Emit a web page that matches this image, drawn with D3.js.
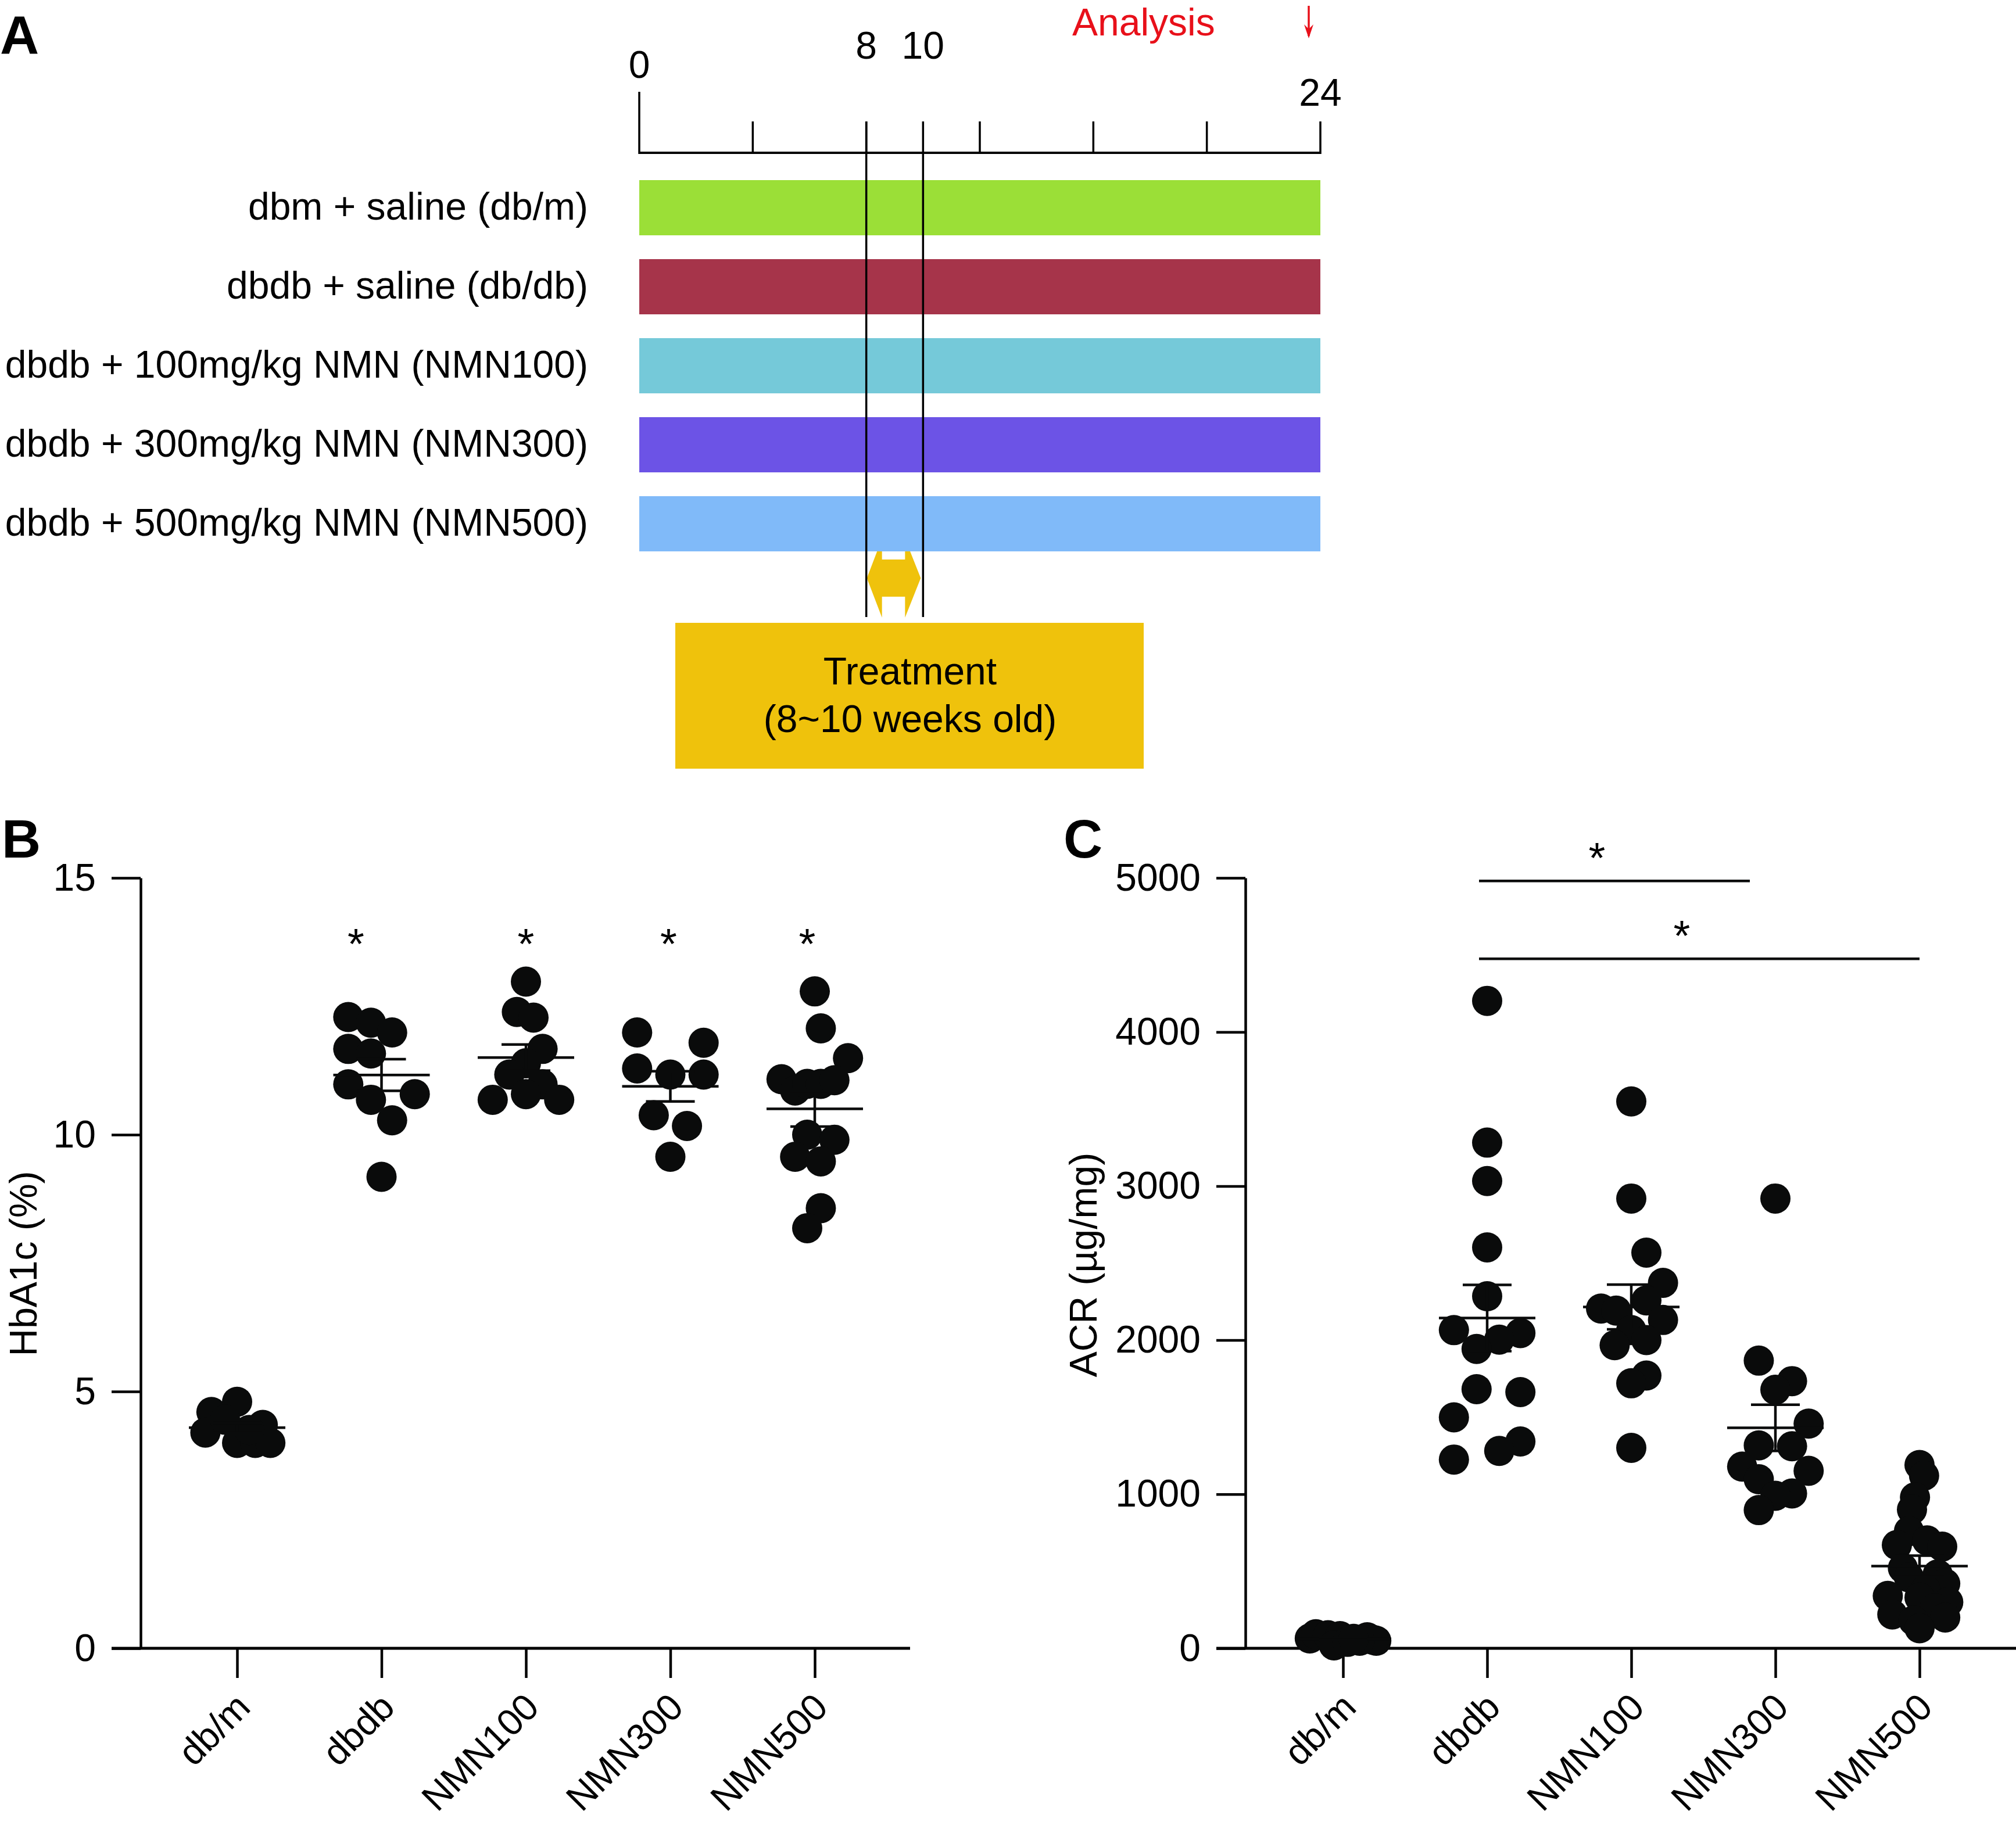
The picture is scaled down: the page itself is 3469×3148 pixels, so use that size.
<!DOCTYPE html>
<html><head><meta charset="utf-8">
<script src="https://cdn.jsdelivr.net/npm/d3@7/dist/d3.min.js"></script>
<style>
html,body{margin:0;padding:0;background:#fff;}
svg{display:block;}
text{font-family:"Liberation Sans",Arial,Helvetica,sans-serif;}
</style>
</head><body>
<svg id="chart" width="3469" height="3148"></svg>
<script>
// ---------------- DATA ----------------
const groups = ["db/m", "dbdb", "NMN100", "NMN300", "NMN500"];

// Panel A: study design timeline
const timelineRows = ["dbm + saline (db/m)", "dbdb + saline (db/db)", "dbdb + 100mg/kg NMN (NMN100)", "dbdb + 300mg/kg NMN (NMN300)", "dbdb + 500mg/kg NMN (NMN500)"];
const timelineWeeks = [0, 24];
const weekTicks = [0, 4, 8, 12, 16, 20, 24];
const weekLabels = [0, 8, 10, 24];
const treatmentWindow = [8, 10];
const treatmentText = ["Treatment", "(8~10 weeks old)"];
const analysisText = "Analysis";

// Panel B: HbA1c (%)
const hbaDbm    = [4.80, 4.60, 4.20, 4.35, 4.00, 4.00, 4.00, 4.25, 4.45];
const hbaDbdb   = [12.29, 12.18, 11.99, 11.67, 11.58, 10.98, 10.68, 10.79, 10.28, 9.18];
const hbaNmn100 = [12.98, 12.39, 12.28, 11.67, 11.39, 11.17, 10.98, 10.79, 10.68, 10.68];
const hbaNmn300 = [11.99, 11.79, 11.29, 11.17, 11.17, 10.38, 10.17, 9.57];
const hbaNmn500 = [12.79, 12.07, 11.49, 11.08, 10.86, 10.99, 10.99, 11.06, 10.0, 9.9, 9.57, 9.48, 8.57, 8.18];
// horizontal scatter slot of each point (in dot radii)
const hbaDbmJit    = [0, -1.7, -2.1, 1.7, 0, 1.2, 2.2, 0.8, -0.8];
const hbaDbdbJit   = [-2.2, -0.7, 0.7, -2.2, -0.7, -2.2, -0.7, 2.2, 0.7, 0];
const hbaNmn100Jit = [0, -0.6, 0.5, 1.1, 0, -1.1, 1.1, 0, -2.2, 2.2];
const hbaNmn300Jit = [-2.2, 2.2, -2.2, 0, 2.2, -1.1, 1.1, 0];
const hbaNmn500Jit = [0, 0.4, 2.2, -2.2, -1.3, -0.5, 0.4, 1.3, -0.5, 1.3, -1.3, 0.4, 0.4, -0.5];
const hbaTicks = [0, 5, 10, 15];
const hbaStars = ["dbdb", "NMN100", "NMN300", "NMN500"];

// Panel C: ACR (µg/mg)
const acrDbm    = [64, 91, 85, 79, 72, 49, 55, 19, 42, 49, 61];
const acrDbdb   = [4202, 3282, 3033, 2602, 2285, 2065, 2046, 2003, 1943, 1682, 1663, 1499, 1342, 1281, 1225];
const acrNmn100 = [3549, 2919, 2568, 2372, 2258, 2205, 2192, 2131, 2065, 2000, 1967, 1770, 1720, 1301];
const acrNmn300 = [2919, 1867, 1734, 1678, 1458, 1317, 1311, 1179, 1152, 1097, 1005, 990, 897];
const acrNmn500 = [1190, 1120, 980, 900, 760, 700, 670, 660, 520, 480, 460, 420, 380, 340, 330, 300, 260, 220, 200, 180, 130];
const acrDbmJit    = [-2.2, -1.8, -1.0, -0.2, 1.6, 2.2, 2.0, -0.6, 0.3, 1.1, 0.7];
const acrDbdbJit   = [0, 0, 0, 0, 0, -2.2, 2.2, 0.8, -0.7, -0.7, 2.2, -2.2, 2.2, 0.8, -2.2];
const acrNmn100Jit = [0, 0, 1.0, 2.1, 1.0, -2.0, -1.0, 2.1, 0, 1.0, -1.1, 1.0, 0, 0];
const acrNmn300Jit = [0, -1.1, 1.1, 0, 2.2, -1.1, 1.1, -2.2, 2.2, -1.1, 1.1, 0, -1.1];
const acrNmn500Jit = [0, 0.3, -0.3, -0.5, -0.7, 0.5, -1.5, 1.5, -1.1, 1.2, -0.7, 1.7, 0.4, -2.1, 0, 1.9, 1.0, -1.8, 1.7, -0.4, 0];
const acrTicks = [0, 1000, 2000, 3000, 4000, 5000];
const acrBrackets = [["dbdb", "NMN300", 4980], ["dbdb", "NMN500", 4475]];

// ---------------- STYLE ----------------
const rowColors = ["#9bdf37", "#a6344a", "#75c9d9", "#6c53e6", "#80baf9"];
const treatColor = "#efc20c";
const red = "#e8101a";
const ink = "#0a0b0b";
const FS = 66;
const R = 26;
const SW = 4.5;

const svg = d3.select("#chart");
svg.append("rect").attr("width", 3469).attr("height", 3148).attr("fill", "#fff");

function panelLetter(t, x, y) {
  svg.append("text").attr("x", x).attr("y", y).attr("font-size", 93).attr("font-weight", "bold").attr("fill", "#000").text(t);
}

// ---------------- PANEL A ----------------
panelLetter("A", 0, 92);
const tl = d3.scaleLinear().domain(timelineWeeks).range([1100, 2272]);
const rowY = d3.scaleBand().domain(timelineRows).range([310, 990]).padding(0);
const barH = 95;
const gA = svg.append("g");

// treatment double arrow (drawn under bars)
const ax0 = tl(treatmentWindow[0]) + 1, ax1 = tl(treatmentWindow[1]) - 4;
const hb0 = ax0 + 26, hb1 = ax1 - 27, acy = 995, hh = 68, sh = 32;
gA.append("path")
  .attr("d", `M${ax0},${acy} L${hb0},${acy - hh} L${hb0},${acy - sh} L${hb1},${acy - sh} L${hb1},${acy - hh} L${ax1},${acy} L${hb1},${acy + hh} L${hb1},${acy + sh} L${hb0},${acy + sh} L${hb0},${acy + hh} Z`)
  .attr("fill", treatColor);

gA.selectAll("rect.row").data(timelineRows).join("rect").attr("class", "row")
  .attr("x", tl(timelineWeeks[0])).attr("width", tl(timelineWeeks[1]) - tl(timelineWeeks[0]))
  .attr("y", d => rowY(d)).attr("height", barH)
  .attr("fill", (d, i) => rowColors[i]);

gA.selectAll("text.row").data(timelineRows).join("text").attr("class", "row")
  .attr("x", 1012).attr("y", d => rowY(d) + barH / 2 + 20)
  .attr("text-anchor", "end").attr("font-size", FS).attr("fill", "#000").text(d => d);

// timeline axis
gA.append("line").attr("x1", tl(0)).attr("x2", tl(24)).attr("y1", 263).attr("y2", 263).attr("stroke", "#000").attr("stroke-width", 4);
gA.selectAll("line.tick").data(weekTicks).join("line").attr("class", "tick")
  .attr("x1", d => tl(d)).attr("x2", d => tl(d))
  .attr("y1", 265).attr("y2", d => d === 0 ? 158 : 209)
  .attr("stroke", "#000").attr("stroke-width", 3.5);
gA.selectAll("line.treat").data(treatmentWindow).join("line").attr("class", "treat")
  .attr("x1", d => tl(d)).attr("x2", d => tl(d))
  .attr("y1", 209).attr("y2", 1062)
  .attr("stroke", "#000").attr("stroke-width", 3.5);
const labelBase = {0: 134, 8: 101, 10: 101, 24: 182};
gA.selectAll("text.wk").data(weekLabels).join("text").attr("class", "wk")
  .attr("x", d => tl(d)).attr("y", d => labelBase[d])
  .attr("text-anchor", "middle").attr("font-size", FS).attr("fill", "#000").text(d => d);

gA.append("text").attr("x", 1845).attr("y", 61).attr("font-size", FS).attr("fill", red).text(analysisText);
// red downward arrow marking the analysis time
const arX = tl(24) - 20;
gA.append("line").attr("x1", arX).attr("x2", arX).attr("y1", 10).attr("y2", 62)
  .attr("stroke", red).attr("stroke-width", 3.5);
gA.append("path").attr("d", `M${arX - 8},42 L${arX},66 L${arX + 8},42 L${arX},50 Z`).attr("fill", red);

// treatment box
gA.append("rect").attr("x", 1162).attr("y", 1072).attr("width", 806).attr("height", 251).attr("fill", treatColor);
gA.selectAll("text.treat").data(treatmentText).join("text").attr("class", "treat")
  .attr("x", 1566).attr("y", (d, i) => 1178 + i * 82)
  .attr("text-anchor", "middle").attr("font-size", FS).attr("fill", "#000").text(d => d);

// ---------------- SCATTER PANELS ----------------
function scatterPanel(opt) {
  const g = svg.append("g");
  const x = d3.scalePoint().domain(groups).range(opt.xRange);
  const y = d3.scaleLinear().domain(opt.yDomain).range([2837, 1511]);

  // y axis
  const ya = g.append("g").attr("transform", `translate(${opt.yAxisX},0)`)
    .call(d3.axisLeft(y).tickValues(opt.ticks).tickFormat(d3.format("d")).tickSize(50).tickSizeOuter(0).tickPadding(27));
  ya.select(".domain").attr("stroke", "#000").attr("stroke-width", SW);
  ya.selectAll(".tick line").attr("stroke", "#000").attr("stroke-width", SW);
  ya.selectAll(".tick text").attr("font-size", FS).attr("fill", "#000").attr("font-family", null);

  // x axis
  g.append("line").attr("x1", opt.yAxisX - 50).attr("x2", opt.xAxisEnd).attr("y1", 2837).attr("y2", 2837)
    .attr("stroke", "#000").attr("stroke-width", SW + 0.5);
  const xa = g.append("g").attr("transform", "translate(0,2837)")
    .call(d3.axisBottom(x).tickSize(51).tickSizeOuter(0).tickFormat(""));
  xa.select(".domain").remove();
  xa.selectAll(".tick line").attr("stroke", "#000").attr("stroke-width", SW);
  g.selectAll("text.xl").data(groups).join("text").attr("class", "xl")
    .attr("transform", d => `translate(${x(d) + 26},2942) rotate(-45)`)
    .attr("text-anchor", "end").attr("font-size", 64).attr("fill", "#000").text(d => d);

  // y label
  g.append("text").attr("transform", `translate(${opt.yLabelX},${opt.yLabelY}) rotate(-90)`)
    .attr("text-anchor", "middle").attr("font-size", FS).attr("fill", "#000").text(opt.yLabel);

  // dots + mean/SEM
  opt.values.forEach((vals, i) => {
    const grp = groups[i];
    const cx = x(grp);
    const pts = vals.map((v, j) => ({v, s: opt.jitter[i][j]}));
    g.selectAll(null).data(pts).join("circle")
      .attr("cx", d => cx + d.s * R).attr("cy", d => y(d.v)).attr("r", R).attr("fill", ink);
    const m = d3.mean(vals);
    const sem = d3.deviation(vals) / Math.sqrt(vals.length);
    const lines = [
      [cx - 83, y(m), cx + 83, y(m)],
      [cx, y(m - sem), cx, y(m + sem)],
      [cx - 42, y(m + sem), cx + 42, y(m + sem)],
      [cx - 42, y(m - sem), cx + 42, y(m - sem)]
    ];
    g.selectAll(null).data(lines).join("line")
      .attr("x1", d => d[0]).attr("y1", d => d[1]).attr("x2", d => d[2]).attr("y2", d => d[3])
      .attr("stroke", ink).attr("stroke-width", SW);
  });
  return {g, x, y};
}

// Panel B
panelLetter("B", 3, 1476);
const pB = scatterPanel({
  xRange: [408, 1402], yDomain: [0, 15], ticks: hbaTicks, yAxisX: 242, xAxisEnd: 1566,
  yLabel: "HbA1c (%)", yLabelX: 63, yLabelY: 2175,
  values: [hbaDbm, hbaDbdb, hbaNmn100, hbaNmn300, hbaNmn500],
  jitter: [hbaDbmJit, hbaDbdbJit, hbaNmn100Jit, hbaNmn300Jit, hbaNmn500Jit]
});
const starShiftB = {"dbdb": -44, "NMN100": 0, "NMN300": -3, "NMN500": -13};
pB.g.selectAll("text.star").data(hbaStars).join("text").attr("class", "star")
  .attr("x", d => pB.x(d) + starShiftB[d]).attr("y", 1650)
  .attr("text-anchor", "middle").attr("font-size", 74).attr("fill", "#000").text("*");

// Panel C
panelLetter("C", 1830, 1476);
const pC = scatterPanel({
  xRange: [2311, 3303], yDomain: [0, 5000], ticks: acrTicks, yAxisX: 2143, xAxisEnd: 3469,
  yLabel: "ACR (µg/mg)", yLabelX: 1887, yLabelY: 2177,
  values: [acrDbm, acrDbdb, acrNmn100, acrNmn300, acrNmn500],
  jitter: [acrDbmJit, acrDbdbJit, acrNmn100Jit, acrNmn300Jit, acrNmn500Jit]
});
acrBrackets.forEach(([a, b, v], i) => {
  const x1 = pC.x(a) - 14;
  const x2 = i === 0 ? pC.x(b) - 44 : pC.x(b);
  const yy = pC.y(v);
  pC.g.append("line").attr("x1", x1).attr("x2", x2).attr("y1", yy).attr("y2", yy)
    .attr("stroke", ink).attr("stroke-width", SW);
  pC.g.append("text").attr("x", (x1 + x2) / 2 - 30).attr("y", yy - 14)
    .attr("text-anchor", "middle").attr("font-size", 74).attr("fill", "#000").text("*");
});
</script>
</body></html>
